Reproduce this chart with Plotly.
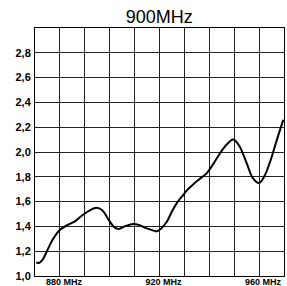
import plotly.graph_objects as go

freq_mhz = [870.5, 871.5, 873, 875, 877, 879, 880.5, 883, 886, 889, 892, 894.7, 897, 900, 902, 903.7, 906, 909.4, 912, 914, 917, 918.9, 920.5, 923, 925, 927, 929, 931, 933.6, 936, 939, 941.5, 944.3, 947, 949.6, 952, 955, 957.5, 960, 962, 964.4, 967, 969.7]
vswr = [1.11, 1.105, 1.13, 1.21, 1.29, 1.35, 1.38, 1.41, 1.44, 1.49, 1.53, 1.55, 1.53, 1.44, 1.39, 1.38, 1.40, 1.42, 1.41, 1.39, 1.37, 1.36, 1.38, 1.44, 1.52, 1.59, 1.64, 1.69, 1.74, 1.78, 1.83, 1.90, 1.99, 2.06, 2.10, 2.05, 1.91, 1.79, 1.75, 1.80, 1.92, 2.09, 2.26]

x_tick_vals = [870, 880, 890, 900, 910, 920, 930, 940, 950, 960, 970]
x_tick_text = ["", "880 MHz", "", "", "", "920 MHz", "", "", "", "960 MHz", ""]
y_tick_vals = [1.0, 1.2, 1.4, 1.6, 1.8, 2.0, 2.2, 2.4, 2.6, 2.8, 3.0]
y_tick_text = ["1,0", "1,2", "1,4", "1,6", "1,8", "2,0", "2,2", "2,4", "2,6", "2,8", ""]

fig = go.Figure()
fig.add_trace(go.Scatter(
    x=freq_mhz, y=vswr, mode="lines",
    line=dict(color="black", width=2, shape="spline", smoothing=1.0),
    hoverinfo="skip", showlegend=False, cliponaxis=True,
))

fig.update_layout(
    width=287, height=286,
    margin=dict(l=35, r=3, t=28, b=10, autoexpand=False),
    paper_bgcolor="white", plot_bgcolor="white",
    font=dict(family="Liberation Sans, Arial, sans-serif", color="black"),
    title=dict(text="900MHz", x=0.555, xanchor="center", y=0.94, yanchor="middle",
               font=dict(size=18, color="black")),
)
fig.update_xaxes(
    range=[870, 970], tickmode="array", tickvals=x_tick_vals, ticktext=x_tick_text,
    showgrid=True, gridcolor="#222", gridwidth=1,
    showline=True, linecolor="black", linewidth=1, mirror=True,
    ticks="", ticklabelshift=4, ticklabelstandoff=-3, automargin=False,
    tickfont=dict(size=9, weight="bold", color="black"),
    zeroline=False, fixedrange=True,
)
fig.update_yaxes(
    range=[1.0, 3.0], tickmode="array", tickvals=y_tick_vals, ticktext=y_tick_text,
    showgrid=True, gridcolor="#222", gridwidth=1,
    showline=True, linecolor="black", linewidth=1, mirror=True,
    ticks="", ticklabelstandoff=1, automargin=False,
    tickfont=dict(size=11, weight="bold", color="black"),
    zeroline=False, fixedrange=True,
)

fig.write_html("out.html", config={"displayModeBar": False},
               post_script="document.body.style.margin='0';document.body.style.overflow='hidden';")
